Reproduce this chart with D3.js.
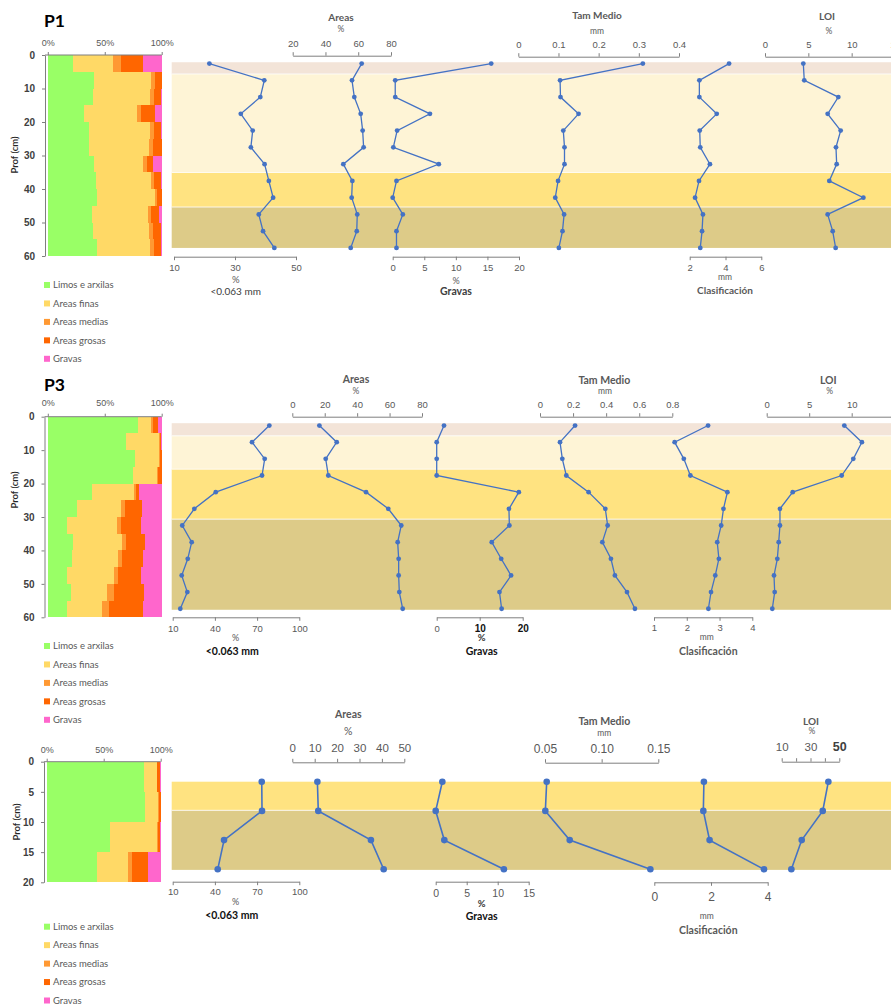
<!DOCTYPE html>
<html>
<head>
<meta charset="utf-8">
<script src="https://cdn.jsdelivr.net/npm/d3@7"></script>
<style>
  html, body { margin: 0; padding: 0; background: #fff; }
  svg { display: block; font-family: Lato, "Open Sans", sans-serif; }
</style>
</head>
<body>
<svg id="chart" width="891" height="1008"></svg>
<script>
// ---------- Sample depths (cm, mid-point of each 5 cm slice) ----------
const depthsP1 = [2.5, 7.5, 12.5, 17.5, 22.5, 27.5, 32.5, 37.5, 42.5, 47.5, 52.5, 57.5];
const depthsP3 = [2.5, 7.5, 12.5, 17.5, 22.5, 27.5, 32.5, 37.5, 42.5, 47.5, 52.5, 57.5];
const depthsPC = [2.5, 7.5, 12.5, 17.5];

// ---------- Horizon boundaries (cm) ----------
const horizonsP1 = [2.1, 5.6, 35.0, 45.3, 57.5];
const horizonsP3 = [1.8, 5.6, 15.6, 30.6, 57.8];
const horizonsPC = [2.5, 7.4, 17.6];

// ---------- Grain-size composition (stacked bars, %) ----------
const legendLabels = ["Limos e arxilas", "Areas finas", "Areas medias", "Areas grosas", "Gravas"];

const barLimosP1  = [22, 41, 40, 32, 36, 36, 40.5, 42, 43, 39, 40, 43.5];
const barFinasP1  = [35, 50, 50, 46, 54, 53, 43.5, 49, 51, 49, 49, 46.5];
const barMediasP1 = [7, 3, 3.5, 4, 3, 3.5, 3.5, 2.5, 2, 3, 3.5, 3];
const barGrosasP1 = [20, 6, 6, 12, 6, 7.5, 4.5, 6, 4, 7, 7, 6.5];
const barGravasP1 = [16, 0, 0.5, 6, 1, 0, 8, 0.5, 0, 2, 0.5, 0.5];

const barLimosP3  = [79.5, 69, 76.5, 75, 39, 25.5, 17, 22.5, 21, 17, 20, 16.5];
const barFinasP3  = [11.5, 29, 21.5, 21, 36.5, 39, 43.5, 43, 41, 41, 32, 31];
const barMediasP3 = [1, 0.5, 0.5, 1, 2, 3.5, 4, 3.5, 3, 4, 6, 6];
const barGrosasP3 = [5, 1, 1.5, 3, 3, 14.5, 17.5, 16.5, 19, 20, 26.5, 30.5];
const barGravasP3 = [3, 0.5, 0, 0, 19.5, 17.5, 18, 14.5, 16, 18, 15.5, 16];

const barLimosPC  = [85.5, 86.5, 55.5, 44];
const barFinasPC  = [11, 11.5, 41, 27.5];
const barMediasPC = [0.5, 0.5, 1, 3.5];
const barGrosasPC = [2, 1.5, 1.5, 13.5];
const barGravasPC = [1, 0, 1, 11.5];

// ---------- Depth profiles ----------
const finosP1   = [21.6, 39.6, 38.3, 31.9, 35.8, 35.2, 39.7, 41.1, 42.5, 37.8, 39.2, 42.9];
const areasP1   = [62.1, 56.2, 57.6, 61.5, 62.7, 63.3, 50.9, 56.4, 56.0, 59.4, 59.1, 55.4];
const gravasP1  = [15.6, 0.4, 0.4, 5.9, 0.7, 0.1, 7.3, 0.6, 0.0, 1.6, 0.6, 0.6];
const tamP1     = [0.31, 0.104, 0.105, 0.150, 0.112, 0.115, 0.115, 0.099, 0.092, 0.114, 0.110, 0.101];
const clasifP1  = [4.20, 2.54, 2.54, 3.51, 2.56, 2.59, 3.13, 2.52, 2.30, 2.74, 2.69, 2.59];
const loiP1     = [4.42, 4.53, 8.46, 7.23, 8.73, 8.19, 8.27, 7.42, 11.35, 7.23, 7.81, 8.15];

const finosP3   = [78.7, 66.4, 75.4, 73.5, 40.6, 25.4, 16.8, 23.5, 20.7, 16.4, 20.4, 15.4];
const areasP3   = [16.7, 27.4, 20.6, 22.2, 45.5, 59.2, 67.2, 65.0, 65.6, 65.6, 66.0, 68.1];
const gravasP3  = [1.7, 0, 0, 0, 19.1, 16.8, 16.9, 12.8, 15.0, 17.3, 14.6, 15.1];
const tamP3     = [0.212, 0.121, 0.135, 0.159, 0.294, 0.395, 0.409, 0.377, 0.429, 0.453, 0.526, 0.574];
const clasifP3  = [2.65, 1.63, 1.91, 2.11, 3.24, 3.12, 3.05, 2.93, 2.98, 2.87, 2.74, 2.66];
const loiP3     = [9.13, 11.2, 10.19, 8.82, 3.06, 1.56, 1.56, 1.41, 1.25, 0.86, 0.94, 0.66];

const finosPC   = [73.3, 73.5, 46.5, 42.0];
const areasPC   = [11.2, 11.6, 35.1, 40.8];
const gravasPC  = [1.07, 0, 1.39, 11.0];
const tamPC     = [0.0515, 0.0503, 0.0718, 0.143];
const clasifPC  = [1.75, 1.73, 1.95, 3.87];
const loiPC     = [42.4, 38.5, 23.9, 16.7];

// ---------- Axis tick values ----------
const ticksFinosP1 = [10, 30, 50];
const ticksAreasP1 = [20, 40, 60, 80];
const ticksGravasP1 = [0, 5, 10, 15, 20];
const ticksTamP1 = [0, 0.1, 0.2, 0.3, 0.4];
const ticksClasifP1 = [2, 4, 6];
const ticksLoiP1 = [0, 5, 10, 15];

const ticksFinosP3 = [10, 40, 70, 100];
const ticksAreasP3 = [0, 20, 40, 60, 80];
const ticksGravasP3 = [0, 10, 20];
const ticksTamP3 = [0, 0.2, 0.4, 0.6, 0.8];
const ticksClasifP3 = [1, 2, 3, 4];
const ticksLoiP3 = [0, 5, 10];

const ticksFinosPC = [10, 40, 70, 100];
const ticksAreasPC = [0, 10, 20, 30, 40, 50];
const ticksGravasPC = [0, 5, 10, 15];
const ticksTamPC = [0.05, 0.10, 0.15];
const ticksClasifPC = [0, 2, 4];
const ticksLoiPC = [10, 20, 30, 40, 50];

// ---------- Styling ----------
const svg = d3.select("#chart");
const GRAY = "#595959";
const AXIS = "#7f7f7f";
const BLUE = "#4472C4";
const barColors = ["#99FF66", "#FFD966", "#FF9933", "#FF6600", "#FF66CC"];
const horizonColors = ["#F3E4D8", "#FEF4D6", "#FFE381", "#DDCB88"];

function label(g, x, y, str, o = {}) {
  return g.append("text")
    .attr("x", x).attr("y", y).attr("dy", "0.35em")
    .attr("text-anchor", o.anchor || "middle")
    .attr("font-size", o.size || 9.5)
    .attr("font-weight", o.weight || (o.bold ? "bold" : "normal"))
    .attr("fill", o.color || GRAY)
    .attr("transform", o.rotate ? `rotate(${o.rotate},${x},${y})` : null)
    .text(str);
}

// ---------- Stacked composition bar ----------
function drawBars(c) {
  const g = svg.append("g");
  const x = d3.scaleLinear().domain([0, 100]).range([c.x0, c.x1]);
  const y = d3.scaleLinear().domain([0, c.maxDepth]).range([c.y0, c.y1]);
  const keys = ["limos", "finas", "medias", "grosas", "gravas"];
  const rows = c.depths.map((d, i) => ({
    depth: d, limos: c.limos[i], finas: c.finas[i], medias: c.medias[i],
    grosas: c.grosas[i], gravas: c.gravas[i]
  }));
  const series = d3.stack().keys(keys)(rows);

  g.selectAll("g.layer").data(series).join("g")
    .attr("class", "layer")
    .attr("fill", (d, i) => barColors[i])
    .selectAll("rect").data(d => d).join("rect")
    .attr("shape-rendering", "crispEdges")
    .attr("x", d => x(d[0]))
    .attr("width", d => Math.max(0, x(d[1]) - x(d[0])))
    .attr("y", d => y(d.data.depth - 2.5))
    .attr("height", d => y(d.data.depth + 2.5) - y(d.data.depth - 2.5));

  // top percentage axis
  const xa = g.append("g").attr("transform", `translate(0,${c.y0})`)
    .call(d3.axisTop(x).tickValues([0, 50, 100]).tickFormat(d => d + "%")
      .tickSize(3).tickSizeOuter(0).tickPadding(6));
  xa.select(".domain").remove();
  g.append("line").attr("x1", c.yAxisX).attr("x2", c.x1).attr("y1", c.y0).attr("y2", c.y0)
    .attr("stroke", AXIS);
  xa.selectAll("line").attr("stroke", AXIS);
  xa.selectAll("text").attr("font-size", 9).attr("fill", GRAY)
    .attr("font-family", null).attr("y", c.xLabelY - c.y0).attr("dy", "0.35em");

  // depth axis
  const ya = g.append("g").attr("transform", `translate(${c.yAxisX},0)`)
    .call(d3.axisLeft(y).tickValues(c.yTicks).tickSize(3).tickSizeOuter(0).tickPadding(7));
  ya.select(".domain").attr("stroke", AXIS);
  ya.selectAll("line").attr("stroke", AXIS);
  ya.selectAll("text").attr("font-size", 10).attr("font-weight", "bold")
    .attr("fill", "#404040").attr("font-family", null);

  label(g, c.profX, c.profY, "Prof (cm)", { size: 9.5, weight: 600, color: "#262626", rotate: -90 });

  if (c.title) label(g, 44, c.titleY, c.title, { anchor: "start", size: 17.5, bold: true, color: "#000" });

  // legend
  legendLabels.forEach((t, i) => {
    const ly = c.legendY + i * 18.45;
    g.append("rect").attr("x", 44).attr("y", ly - 3).attr("width", 6).attr("height", 6)
      .attr("fill", barColors[i]);
    label(g, 53, ly, t, { anchor: "start", size: 9.5, color: GRAY });
  });
}

// ---------- Horizon bands behind the profiles ----------
function drawHorizons(c) {
  const g = svg.append("g");
  const y = c.lineY;
  const edges = c.horizons;
  for (let i = 0; i < edges.length - 1; i++) {
    g.append("rect").attr("x", 171.7).attr("width", 891 - 171.7)
      .attr("y", y(edges[i])).attr("height", y(edges[i + 1]) - y(edges[i]))
      .attr("fill", c.horizonColors[i]);
  }
  for (let i = 1; i < edges.length - 1; i++) {
    g.append("line").attr("x1", 171.7).attr("x2", 891)
      .attr("y1", y(edges[i])).attr("y2", y(edges[i]))
      .attr("stroke", "#fff").attr("stroke-width", 1).attr("opacity", 0.8);
  }
}

// ---------- One depth profile with its own axis ----------
function drawProfile(c, s) {
  const g = svg.append("g");
  const x = d3.scaleLinear().domain(s.domain).range(s.range);
  const y = c.lineY;
  const pts = c.depths.map((d, i) => [x(s.values[i]), y(d)]);

  g.append("path").attr("d", d3.line()(pts))
    .attr("fill", "none").attr("stroke", BLUE).attr("stroke-width", c.lineWidth);
  g.selectAll("circle").data(pts).join("circle")
    .attr("cx", d => d[0]).attr("cy", d => d[1]).attr("r", c.dotR).attr("fill", BLUE);

  const axisFn = s.side === "top" ? d3.axisTop(x) : d3.axisBottom(x);
  const ax = g.append("g").attr("transform", `translate(0,${s.axisY})`)
    .call(axisFn.tickValues(s.ticks).tickFormat(s.fmt || (d => d))
      .tickSize(s.tickSize || 3.5).tickSizeOuter(0));
  ax.select(".domain").attr("stroke", AXIS);
  ax.selectAll("line").attr("stroke", AXIS);
  ax.selectAll("text").attr("font-family", null)
    .attr("y", s.labelDy).attr("dy", "0.35em")
    .attr("font-size", s.fontSize || 9.5).attr("fill", GRAY);
  if (s.styleTick) ax.selectAll("text").each(function (d) { s.styleTick(d3.select(this), d); });

  s.titles.forEach(t => label(g, t.x, t.y, t.text, t));
}

// ---------- Panel layouts ----------
const fmtPlain = d => (d === 0 ? "0" : String(d));

const panels = [
  {
    title: "P1", titleY: 21,
    bars: { limos: barLimosP1, finas: barFinasP1, medias: barMediasP1, grosas: barGrosasP1, gravas: barGravasP1 },
    depths: depthsP1, horizons: horizonsP1, horizonColors: horizonColors,
    x0: 47.8, x1: 161.7, y0: 55, y1: 256, maxDepth: 60, yTicks: [0, 10, 20, 30, 40, 50, 60],
    yAxisX: 45, xLabelY: 42.7, profX: 15, profY: 155, legendY: 285,
    lineY: d3.scaleLinear().domain([0, 60]).range([55.2, 256.3]),
    lineWidth: 1.3, dotR: 2.4,
    series: [
      { values: finosP1, domain: [10, 50], range: [174, 296], side: "bottom", axisY: 256.7, ticks: ticksFinosP1, labelDy: 11,
        titles: [{ text: "%", x: 235.7, y: 280 }, { text: "<0.063 mm", x: 235.7, y: 291, size: 10, color: "#404040" }] },
      { values: areasP1, domain: [20, 80], range: [292.7, 391], side: "top", axisY: 55.7, ticks: ticksAreasP1, labelDy: -12,
        titles: [{ text: "Areas", x: 341, y: 17, bold: true, size: 10 }, { text: "%", x: 341, y: 29.5, size: 8.5 }] },
      { values: gravasP1, domain: [0, 20], range: [392.7, 519], side: "bottom", axisY: 256.7, ticks: ticksGravasP1, labelDy: 11,
        titles: [{ text: "%", x: 456, y: 281, size: 9 }, { text: "Gravas", x: 456, y: 291.5, bold: true, size: 10.5, color: "#404040" }] },
      { values: tamP1, domain: [0, 0.4], range: [518.3, 679], side: "top", axisY: 56.7, ticks: ticksTamP1, fmt: fmtPlain, labelDy: -11.7,
        titles: [{ text: "Tam Medio", x: 597, y: 15.5, bold: true, size: 10 }, { text: "mm", x: 597, y: 31, size: 8.5 }] },
      { values: clasifP1, domain: [2, 6], range: [689.7, 761.3], side: "bottom", axisY: 256.7, ticks: ticksClasifP1, labelDy: 10.5,
        titles: [{ text: "mm", x: 725, y: 276.7, size: 8.5 }, { text: "Clasificación", x: 725, y: 290, bold: true, size: 10 }] },
      { values: loiP1, domain: [0, 15], range: [765, 895], side: "top", axisY: 56.7, ticks: ticksLoiP1, labelDy: -12,
        titles: [{ text: "LOI", x: 827, y: 16, bold: true, size: 10 }, { text: "%", x: 829, y: 31, size: 8.5 }] }
    ]
  },
  {
    title: "P3", titleY: 385,
    bars: { limos: barLimosP3, finas: barFinasP3, medias: barMediasP3, grosas: barGrosasP3, gravas: barGravasP3 },
    depths: depthsP3, horizons: horizonsP3, horizonColors: horizonColors,
    x0: 47.8, x1: 161.7, y0: 416.7, y1: 617.3, maxDepth: 60, yTicks: [0, 10, 20, 30, 40, 50, 60],
    yAxisX: 44.5, xLabelY: 403.3, profX: 15, profY: 490, legendY: 646,
    lineY: d3.scaleLinear().domain([0, 60]).range([417.2, 617.1]),
    lineWidth: 1.3, dotR: 2.4,
    series: [
      { values: finosP3, domain: [10, 100], range: [172.7, 299.3], side: "bottom", axisY: 617.3, ticks: ticksFinosP3, labelDy: 11,
        titles: [{ text: "%", x: 235.7, y: 638, size: 9 }, { text: "<0.063 mm", x: 232.3, y: 651, bold: true, size: 10.5, color: "#111" }] },
      { values: areasP3, domain: [0, 80], range: [292.3, 422], side: "top", axisY: 416.7, ticks: ticksAreasP3, labelDy: -12,
        titles: [{ text: "Areas", x: 356, y: 379.5, bold: true, size: 10.5 }, { text: "%", x: 356, y: 390.7, size: 8.5 }] },
      { values: gravasP3, domain: [0, 20], range: [436.7, 522.7], side: "bottom", axisY: 617.3, ticks: ticksGravasP3, labelDy: 11,
        styleTick: (t, d) => { if (d > 0) t.attr("font-weight", "bold").attr("fill", "#111").attr("font-size", 10); },
        titles: [{ text: "%", x: 481.7, y: 637.7, bold: true, size: 9.5, color: "#333" }, { text: "Gravas", x: 481.7, y: 651, bold: true, size: 10.5, color: "#111" }] },
      { values: tamP3, domain: [0, 0.8], range: [540, 672.3], side: "top", axisY: 416.7, ticks: ticksTamP3, fmt: fmtPlain, labelDy: -12,
        titles: [{ text: "Tam Medio", x: 604.3, y: 380, bold: true, size: 10.5 }, { text: "mm", x: 605, y: 391, size: 8.5 }] },
      { values: clasifP3, domain: [1, 4], range: [654, 752.3], side: "bottom", axisY: 617.3, ticks: ticksClasifP3, labelDy: 10.5,
        titles: [{ text: "mm", x: 706.7, y: 636.7, size: 8.5 }, { text: "Clasificación", x: 708.3, y: 651, bold: true, size: 10.5 }] },
      { values: loiP3, domain: [0, 15], range: [766.7, 894.2], side: "top", axisY: 416.7, ticks: ticksLoiP3, labelDy: -12,
        titles: [{ text: "LOI", x: 828.3, y: 380, bold: true, size: 10.5 }, { text: "%", x: 829.7, y: 390.7, size: 8.5 }] }
    ]
  },
  {
    title: null,
    bars: { limos: barLimosPC, finas: barFinasPC, medias: barMediasPC, grosas: barGrosasPC, gravas: barGravasPC },
    depths: depthsPC, horizons: horizonsPC, horizonColors: horizonColors.slice(2),
    x0: 46.7, x1: 160.7, y0: 761.7, y1: 882.3, maxDepth: 20, yTicks: [0, 5, 10, 15, 20],
    yAxisX: 44, xLabelY: 750, profX: 17, profY: 822, legendY: 926.7,
    lineY: d3.scaleLinear().domain([0, 20]).range([767.1, 883.9]),
    lineWidth: 1.6, dotR: 3.3,
    series: [
      { values: finosPC, domain: [10, 100], range: [172.7, 299.3], side: "bottom", axisY: 881.7, ticks: ticksFinosPC, labelDy: 9.5,
        titles: [{ text: "%", x: 235.7, y: 901.7, size: 9 }, { text: "<0.063 mm", x: 231.7, y: 915, bold: true, size: 10.5, color: "#111" }] },
      { values: areasPC, domain: [0, 50], range: [292.3, 404.3], side: "top", axisY: 762.3, ticks: ticksAreasPC, labelDy: -14.6, fontSize: 11.5,
        titles: [{ text: "Areas", x: 348.3, y: 714, bold: true, size: 10.5 }, { text: "%", x: 348.3, y: 731, size: 10.5 }] },
      { values: gravasPC, domain: [0, 15], range: [435.7, 528.7], side: "bottom", axisY: 881.7, ticks: ticksGravasPC, labelDy: 11.6, fontSize: 10.5,
        titles: [{ text: "%", x: 481.7, y: 903.3, bold: true, size: 9.5, color: "#333" }, { text: "Gravas", x: 481.7, y: 916, bold: true, size: 10.5, color: "#111" }] },
      { values: tamPC, domain: [0.05, 0.15], range: [545, 658.3], side: "top", axisY: 762.7, ticks: ticksTamPC, fmt: d3.format(".2f"), labelDy: -13.7, fontSize: 12,
        titles: [{ text: "Tam Medio", x: 604.3, y: 721.7, bold: true, size: 10.5 }, { text: "mm", x: 604.3, y: 733.3, size: 8.5 }] },
      { values: clasifPC, domain: [0, 4], range: [654.3, 767.7], side: "bottom", axisY: 882.3, ticks: ticksClasifPC, labelDy: 14.4, fontSize: 12,
        titles: [{ text: "mm", x: 706.7, y: 916, size: 8.5 }, { text: "Clasificación", x: 708.3, y: 930, bold: true, size: 10.5 }] },
      { values: loiPC, domain: [10, 50], range: [781.7, 839.3], side: "top", axisY: 761.7, ticks: ticksLoiPC, labelDy: -14.7, fontSize: 11.5,
        fmt: d => (d === 20 || d === 40 ? "" : String(d)),
        styleTick: (t, d) => { if (d === 50) t.attr("font-weight", "bold").attr("font-size", 12.5).attr("fill", "#404040"); },
        titles: [{ text: "LOI", x: 811, y: 721, bold: true, size: 10 }, { text: "%", x: 812, y: 731.3, size: 8.5 }] }
    ]
  }
];

panels.forEach(p => {
  drawHorizons(p);
  drawBars(Object.assign({ depths: p.depths }, p, p.bars));
  p.series.forEach(s => drawProfile(p, s));
});
</script>
</body>
</html>
